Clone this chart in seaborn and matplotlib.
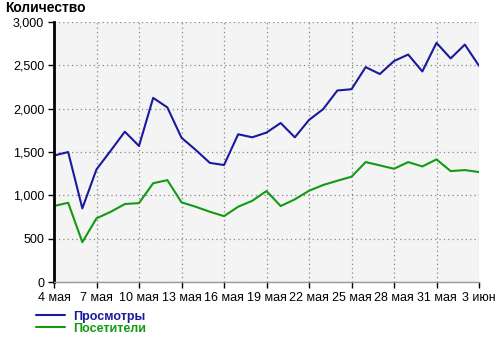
import matplotlib
matplotlib.use("Agg")
import matplotlib.pyplot as plt
import matplotlib.ticker as mticker
import seaborn as sns
import pandas as pd
import numpy as np

# ---- data ----
days = pd.date_range("2013-05-04", "2013-06-03", freq="D")
views = [1460, 1500, 850, 1300, 1515, 1735, 1570, 2125, 2015, 1665,
         1525, 1375, 1350, 1705, 1670, 1725, 1835, 1670, 1870, 1995,
         2210, 2225, 2480, 2400, 2550, 2625, 2430, 2760, 2580, 2740, 2495]
visitors = [877, 915, 460, 735, 810, 900, 911, 1140, 1176, 920,
            869, 811, 760, 869, 938, 1050, 877, 954, 1053, 1120,
            1169, 1215, 1384, 1346, 1307, 1384, 1334, 1415, 1280, 1292, 1269]
series_names = ["Просмотры", "Посетители"]
series_colors = ["#1a1a9c", "#139a13"]
tick_labels = ["4 мая", "7 мая", "10 мая", "13 мая", "16 мая", "19 мая",
               "22 мая", "25 мая", "28 мая", "31 мая", "3 июн"]
y_title = "Количество"

df = pd.DataFrame({
    "day": list(range(len(days))) * 2,
    "value": views + visitors,
    "series": [series_names[0]] * len(views) + [series_names[1]] * len(visitors),
})

sns.set_theme(style="white")
plt.rcParams["font.family"] = ["Liberation Sans", "DejaVu Sans"]

fig = plt.figure(figsize=(5.0, 3.39), dpi=100)
ax = fig.add_axes([0.108, 0.168, 0.85, 0.767])
ax.set_facecolor("#f4f4f4")

sns.lineplot(data=df, x="day", y="value", hue="series",
             palette=dict(zip(series_names, series_colors)),
             linewidth=1.5, ax=ax, legend=False)

ax.set_xlim(0, len(days) - 1)
ax.set_ylim(0, 3000)
ax.set_xticks(range(0, len(days), 3))
ax.set_xticklabels(tick_labels)
ax.set_yticks(range(0, 3001, 500))
ax.yaxis.set_major_formatter(mticker.FuncFormatter(lambda v, p: f"{int(v):,}"))
ax.set_xlabel("")
ax.set_ylabel("")

ax.grid(True, color="#888888", linestyle=(0, (1, 2.5)), linewidth=0.9)
ax.set_axisbelow(True)
for s in ["top", "right"]:
    ax.spines[s].set_visible(False)
ax.spines["left"].set_color("black")
ax.spines["left"].set_linewidth(2)
ax.spines["bottom"].set_color("#999999")
ax.spines["bottom"].set_linewidth(1)
ax.tick_params(axis="both", which="major", length=4, width=1, color="black",
               labelsize=9, labelcolor="black", pad=3, direction="out",
               left=True, bottom=True)

fig.text(0.010, 0.996, y_title, fontsize=10, fontweight="bold",
         ha="left", va="top", color="black")

from matplotlib.lines import Line2D
handles = [Line2D([0], [0], color=c, lw=1.5) for c in series_colors]
leg = fig.legend(handles, series_names, loc="upper left",
                 bbox_to_anchor=(0.072, 0.083), frameon=False,
                 handlelength=2.3, handletextpad=0.64, labelspacing=0.0,
                 borderpad=0, borderaxespad=0,
                 prop={"size": 9, "weight": "bold"})
for t, c in zip(leg.get_texts(), series_colors):
    t.set_color(c)

fig.savefig("out.png", dpi=100, facecolor="white")
